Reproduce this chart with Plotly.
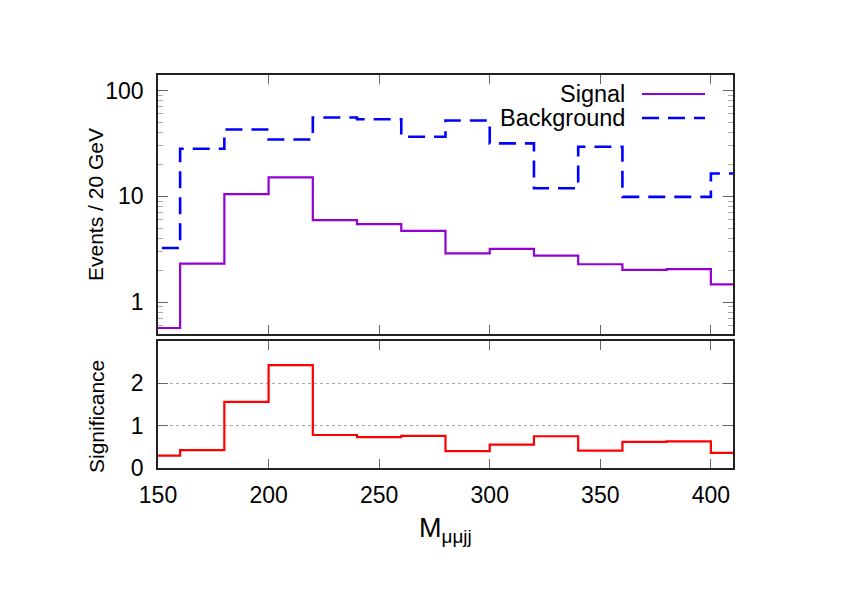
import plotly.graph_objects as go
import math

# ---- data ----
bin_lo = [140, 160, 180, 200, 220, 240, 260, 280, 300, 320, 340, 360, 380, 400]
bin_width = 20
signal = [0.57, 2.31, 10.5, 15.1, 5.96, 5.46, 4.72, 2.89, 3.18, 2.75, 2.28, 2.02, 2.05, 1.47]
background = [3.25, 28.1, 42.8, 34.4, 55.5, 53.5, 36.5, 52.0, 31.6, 11.9, 29.4, 9.87, 9.87, 16.4]
significance = [0.29, 0.42, 1.56, 2.43, 0.78, 0.73, 0.76, 0.40, 0.55, 0.75, 0.41, 0.615, 0.63, 0.355]
x_ticks = [150, 200, 250, 300, 350, 400]
y_ticks_top = [1, 10, 100]
y_ticks_bottom = [0, 1, 2]
series_names = ["Signal", "Background"]

FONT = "Liberation Sans, Arial, Helvetica, sans-serif"
SIG_COLOR = "#9400d3"
BKG_COLOR = "#0000ff"
SIGNIF_COLOR = "#ff0000"

OFF = 8                      # page body margin
W, H = 842 - 2 * OFF, 595 - 2 * OFF
# plot area in page pixels: left 158, right 733, top 75, bottom 468
L, T = 158 - OFF, 75 - OFF
R = W - (733 - OFF)
B = H - (468 - OFF)
PW, PH = W - L - R, H - T - B


def step(vals):
    xs = bin_lo + [bin_lo[-1] + bin_width]
    ys = vals + [vals[-1]]
    return xs, ys


def px(xp):
    return (xp - OFF - L) / PW


def py(yp):
    return (H - B - (yp - OFF)) / PH


fig = go.Figure()
sx, sy = step(signal)
fig.add_trace(go.Scatter(x=sx, y=sy, mode="lines", line_shape="hv", name=series_names[0],
                         line=dict(color=SIG_COLOR, width=2.2), xaxis="x", yaxis="y", showlegend=False))
bx, by = step(background)
fig.add_trace(go.Scatter(x=bx, y=by, mode="lines", line_shape="hv", name=series_names[1],
                         line=dict(color=BKG_COLOR, width=2.6, dash="17px,9px"), xaxis="x", yaxis="y",
                         showlegend=False))
zx, zy = step(significance)
fig.add_trace(go.Scatter(x=zx, y=zy, mode="lines", line_shape="hv", name="Significance",
                         line=dict(color=SIGNIF_COLOR, width=2.2), xaxis="x2", yaxis="y2", showlegend=False))

top_bottom = py(334)
bot_top = py(341)

minor_vals = [v * 10 ** e for e in (-1, 0, 1, 2) for v in range(2, 10) if 0.5 <= v * 10 ** e <= 140]

axis_common = dict(showline=True, linecolor="#222", linewidth=1.5, mirror="ticks",
                   ticks="inside", tickcolor="#666", tickwidth=1.2,
                   tickfont=dict(family=FONT, size=23, color="black"), zeroline=False)

fig.update_layout(
    width=W, height=H,
    margin=dict(l=L, r=R, t=T, b=B),
    paper_bgcolor="white", plot_bgcolor="white",
    showlegend=False,
    xaxis=dict(domain=[0, 1], anchor="y", range=[150, 410], tickmode="array", tickvals=x_ticks,
               showticklabels=False, ticklen=9, showgrid=False, **axis_common),
    xaxis2=dict(domain=[0, 1], anchor="y2", range=[150, 410], matches="x", tickmode="array",
                tickvals=x_ticks, ticklen=9, showgrid=False, ticklabelstandoff=6, **axis_common),
    yaxis=dict(domain=[top_bottom, 1], anchor="x", type="log",
               range=[math.log10(0.5), math.log10(140)], tickmode="array", tickvals=y_ticks_top,
               ticktext=[str(v) for v in y_ticks_top], ticklen=10, showgrid=False,
               ticklabelstandoff=8,
               minor=dict(tickmode="array", tickvals=minor_vals, ticks="inside", ticklen=5,
                          tickcolor="#aaa", showgrid=False),
               **axis_common),
    yaxis2=dict(domain=[0, bot_top], anchor="x2", range=[0, 3], tickmode="array",
                tickvals=y_ticks_bottom, ticklen=10, showgrid=True, gridcolor="#aaa",
                griddash="dot", gridwidth=1, ticklabelstandoff=8, **axis_common),
)

# axis titles
fig.add_annotation(text="Events / 20 GeV", xref="paper", yref="paper", x=px(96), y=py(205),
                   textangle=-90, showarrow=False, font=dict(family=FONT, size=21, color="black"),
                   xanchor="center", yanchor="middle")
fig.add_annotation(text="Significance", xref="paper", yref="paper", x=px(96), y=py(417),
                   textangle=-90, showarrow=False, font=dict(family=FONT, size=21, color="black"),
                   xanchor="center", yanchor="middle")
fig.add_annotation(text="M<sub>μμjj</sub>", xref="paper", yref="paper", x=px(445), y=py(530),
                   showarrow=False, font=dict(family=FONT, size=27, color="black"),
                   xanchor="center", yanchor="middle")

# legend (gnuplot style: text then sample)
legend_rows = [(series_names[0], SIG_COLOR, "solid", 2.2, 94),
               (series_names[1], BKG_COLOR, "17px,9px", 2.6, 118)]
for name, col, dash, w, yp in legend_rows:
    fig.add_annotation(text=name, xref="paper", yref="paper", x=px(627), y=py(yp),
                       showarrow=False, xanchor="right", yanchor="middle",
                       font=dict(family=FONT, size=23.5, color="black"))
    fig.add_shape(type="line", xref="paper", yref="paper", x0=px(642), x1=px(705),
                  y0=py(yp), y1=py(yp), line=dict(color=col, width=w, dash=dash))

fig.write_html("out.html")
